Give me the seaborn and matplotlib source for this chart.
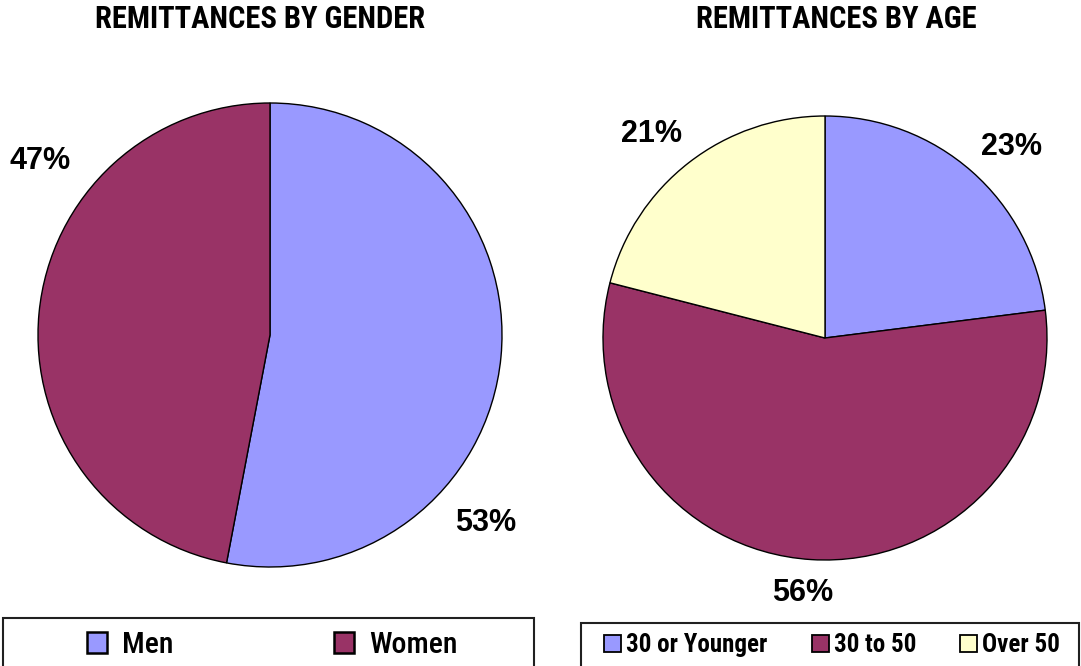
import matplotlib
matplotlib.use("Agg")
import matplotlib.pyplot as plt
import seaborn as sns
from matplotlib.patches import Patch, Rectangle

gender_labels = ["Men", "Women"]
gender_values = [53, 47]
age_labels = ["30 or Younger", "30 to 50", "Over 50"]
age_values = [23, 56, 21]
title_gender = "REMITTANCES BY GENDER"
title_age = "REMITTANCES BY AGE"

sns.set_theme(style="white")
plt.rcParams["font.family"] = ["Roboto Condensed", "DejaVu Sans"]
plt.rcParams["text.color"] = "black"

palette = sns.color_palette(["#9999FF", "#993366", "#FFFFCC"])

W, H = 1081, 666
fig = plt.figure(figsize=(W / 100, H / 100), dpi=100)
fig.patch.set_facecolor("white")


def pie_axes(cx, cy, r):
    ax = fig.add_axes([(cx - r) / W, (H - cy - r) / H, 2 * r / W, 2 * r / H])
    ax.axis("off")
    return ax


wedge_style = dict(edgecolor="black", linewidth=1.0)
pct_font = dict(fontsize=22, fontweight="bold", family=["Liberation Sans", "DejaVu Sans"])

ax1 = pie_axes(270, 335, 232)
ax1.pie(gender_values, colors=palette[:2], startangle=90, counterclock=False,
        radius=1, wedgeprops=wedge_style)
ax1.set_xlim(-1, 1); ax1.set_ylim(-1, 1)
lab_pos1 = [(0.93, -0.81), (-0.99, 0.75)]
for v, (x, y) in zip(gender_values, lab_pos1):
    ax1.text(x, y, f"{v}%", ha="center", va="center", clip_on=False, **pct_font)

ax2 = pie_axes(825, 338, 222)
ax2.pie(age_values, colors=palette, startangle=90, counterclock=False,
        radius=1, wedgeprops=wedge_style)
ax2.set_xlim(-1, 1); ax2.set_ylim(-1, 1)
lab_pos2 = [(0.84, 0.86), (-0.10, -1.15), (-0.78, 0.92)]
for v, (x, y) in zip(age_values, lab_pos2):
    ax2.text(x, y, f"{v}%", ha="center", va="center", clip_on=False, **pct_font)

fig.text(260 / W, 1 - 19 / H, title_gender, ha="center", va="center",
         fontsize=22, fontweight="bold")
fig.text(836 / W, 1 - 19 / H, title_age, ha="center", va="center",
         fontsize=22, fontweight="bold")

# legend frames
for x0, y0, x1 in [(3, 618, 534), (581, 623, 1079)]:
    fig.add_artist(Rectangle((x0 / W, 0 - 10 / H), (x1 - x0) / W, (H - y0 + 10) / H,
                             transform=fig.transFigure, facecolor="none",
                             edgecolor="#202020", linewidth=1.5))

h1 = [Patch(facecolor=palette[i], edgecolor="black", linewidth=1.8) for i in range(2)]
fig.legend(h1, gender_labels, loc="center", ncol=2,
           bbox_to_anchor=(272 / W, 1 - 645 / H),
           prop=dict(size=21.5, weight="medium"), frameon=False,
           handlelength=0.67, handleheight=0.67, handletextpad=0.5,
           columnspacing=5.4, borderpad=0, borderaxespad=0)

h2 = [Patch(facecolor=palette[i], edgecolor="black", linewidth=1.3) for i in range(3)]
fig.legend(h2, age_labels, loc="center", ncol=3,
           bbox_to_anchor=(832 / W, 1 - 645 / H),
           prop=dict(size=18, weight="bold"), frameon=False,
           handlelength=0.68, handleheight=0.68, handletextpad=0.2,
           columnspacing=1.76, borderpad=0, borderaxespad=0)

fig.savefig("out.png", dpi=100)
